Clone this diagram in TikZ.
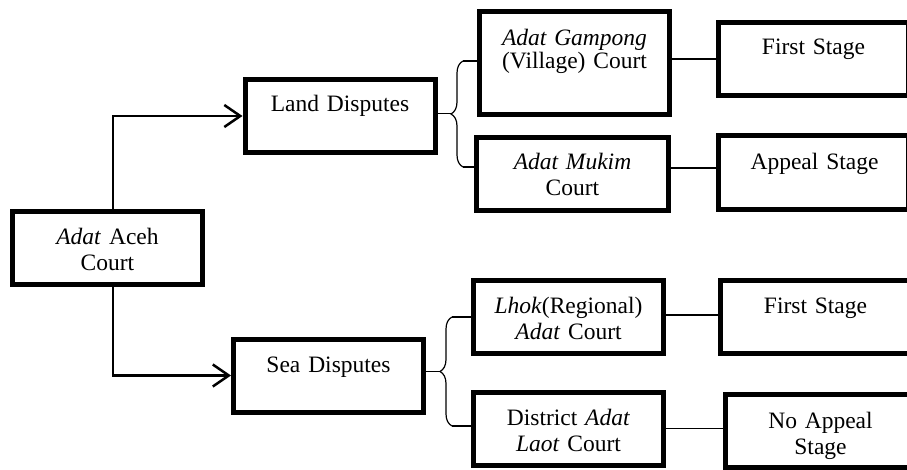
\documentclass[tikz,border=0pt]{standalone}
\usepackage{fontspec}
\setmainfont{Liberation Serif}
\usetikzlibrary{arrows.meta,decorations.pathreplacing}

\begin{document}
\begin{tikzpicture}[
        x=1pt, y=-1pt,
        court/.style={draw, line width=5pt, minimum width=190pt, minimum height=73pt, inner sep=0pt},
        courttext/.style={anchor=base, text width=185pt, align=center, inner sep=0pt, font=\fontsize{23.5}{26}\selectfont},
        arrowline/.style={draw, line width=2.5pt, -{Straight Barb[length=16pt,width=22pt]}},
        link/.style={draw, line width=1.6pt},
        curly/.style={draw, line width=1.2pt, decorate, decoration={brace, amplitude=12pt}}
    ]
        \path[use as bounding box, clip] (0,0) rectangle (907,470);

        % Boxes
        \node[court] (aceh) at (107.5,248) {};
        \node[court] (land) at (340,116) {};
        \node[court] (sea) at (328.5,375.5) {};
        \node[court, minimum height=103pt] (gampong) at (574.5,63) {};
        \node[court, minimum width=192pt] (mukim) at (572.5,174) {};
        \node[court] (lhok) at (568.5,317) {};
        \node[court] (district) at (568.5,428.5) {};
        \node[court] (first1) at (813.5,59) {};
        \node[court, minimum height=74pt] (appeal) at (813.5,172.5) {};
        \node[court] (first2) at (815.5,317) {};
        \node[court] (noappeal) at (820.5,431) {};

        % Texts
        \node[courttext] (acehtxt) at (107.5,245) {\textit{Adat} Aceh\\Court};
        \node[courttext] (landtxt) at (340,112) {Land Disputes};
        \node[courttext] (seatxt) at (328.5,372) {Sea Disputes};
        \node[courttext] (gampongtxt) at (574.5,46) {\textit{Adat Gampong}\\[-3pt](Village) Court};
        \node[courttext] (mukimtxt) at (572.5,169.3) {\textit{Adat Mukim}\\Court};
        \node[courttext] (lhoktxt) at (568.5,313.3) {\textit{Lhok}(Regional)\\\textit{Adat} Court};
        \node[courttext] (districttxt) at (568.5,425) {District \textit{Adat}\\\textit{Laot} Court};
        \node[courttext] (first1txt) at (813.5,55) {First Stage};
        \node[courttext] (appealtxt) at (814.5,169.3) {Appeal Stage};
        \node[courttext] (first2txt) at (815.5,313.3) {First Stage};
        \node[courttext] (noappealtxt) at (820.5,428.3) {No Appeal\\Stage};

        % Arrows
        \draw[arrowline] ([xshift=5.5pt]aceh.north) |- (land.west);
        \draw[arrowline] ([xshift=5.5pt]aceh.south) |- (sea.west);

        % Braces
        \coordinate (landtip) at (452,113.7);
        \coordinate (seatip) at (441,371.3);
        \draw[link] ([yshift=2.3pt]land.east) -- (landtip);
        \draw[curly] (463,167) -- (463,61);
        \draw[line width=1.2pt] (463,61) -- (463,61 -| gampong.west);
        \draw[line width=1.2pt] (463,167) -- (463,167 -| mukim.west);
        \draw[link] ([yshift=4.2pt]sea.east) -- (seatip);
        \draw[curly] (452,426) -- (452,317);
        \draw[line width=1.2pt] (452,317) -- (452,317 -| lhok.west);
        \draw[line width=1.2pt] (452,426) -- (452,426 -| district.west);

        % Stage links
        \draw[link] (first1.west -| gampong.east) -- (first1.west);
        \draw[link] ([yshift=6pt]mukim.east) -- ([yshift=6pt]mukim.east -| appeal.west);
        \draw[link] ([yshift=2pt]lhok.east) -- ([yshift=2pt]lhok.east -| first2.west);
        \draw[link] (district.east) -- (district.east -| noappeal.west);
    \end{tikzpicture}
\end{document}
